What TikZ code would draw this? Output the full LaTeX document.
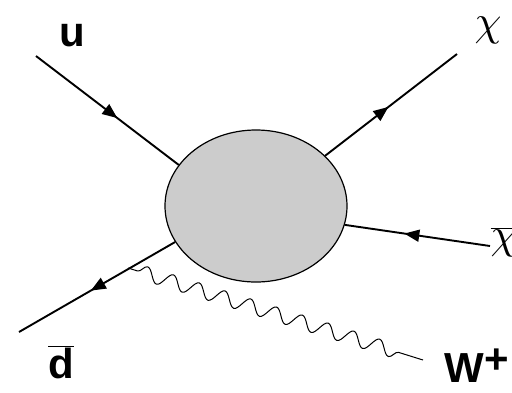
\documentclass[tikz,border=0pt]{standalone}
\usepackage{fontspec}
\setmainfont{Liberation Sans}
\usetikzlibrary{arrows.meta, shapes.geometric, decorations.markings, decorations.pathmorphing}
\newcommand{\bigchi}{\scalebox{4.3}{$\chi$}}

\begin{document}
\begin{tikzpicture}[
  x=1pt, y=-1pt,
  fermion/.style={
    line width=1.9pt,
    postaction={decorate},
    decoration={markings,
      mark=at position #1 with {\arrow{Triangle[length=15pt,width=12pt]}}}
  },
  fermion/.default=0.55,
  boson/.style={
    line width=1pt,
    decorate,
    decoration={snake, segment length=27pt, amplitude=7pt,
      pre length=10pt, post length=16pt}
  },
  blobby/.style={
    ellipse, draw, line width=1.2pt, fill=gray!40,
    minimum width=182pt, minimum height=152pt
  },
  lbl/.style={font=\fontsize{42}{42}\selectfont\bfseries, inner sep=0pt},
  glbl/.style={inner sep=0pt},
]
\useasboundingbox (0,0) rectangle (512,392);

% the blob
\node[blobby] (blob) at (256,206) {};

% outer ends
\coordinate (uend)    at (36,56);
\coordinate (chiend)  at (457,54);
\coordinate (cbarend) at (490,246);
\coordinate (dend)    at (19,332);
\coordinate (wstart)  at (128,268);
\coordinate (wend)    at (423,360);

% labels
\node[lbl]  (ulbl)  at (72,36)   {u};
\node[lbl]  (dlbl)  at (61,362)  {$\overline{\mbox{\bfseries d}}$};
\node[lbl]  (wlbl)  at (477,366) {W$^{\mbox{\bfseries +}}$};
\node[glbl] (clbl)  at (488,30)  {\bigchi};
\node[glbl] (cblbl) at (504,242) {$\overline{\mbox{\bigchi}}$};

% lines
\draw[fermion=0.57] (uend) -- (blob.152);
\draw[fermion=0.48] (blob.36) -- (chiend);
\draw[fermion=0.59] (cbarend) -- (blob.-12);
\draw[fermion=0.54] (blob.204) -- (dend);
\draw[boson] (wstart) -- (wend);

\end{tikzpicture}
\end{document}
